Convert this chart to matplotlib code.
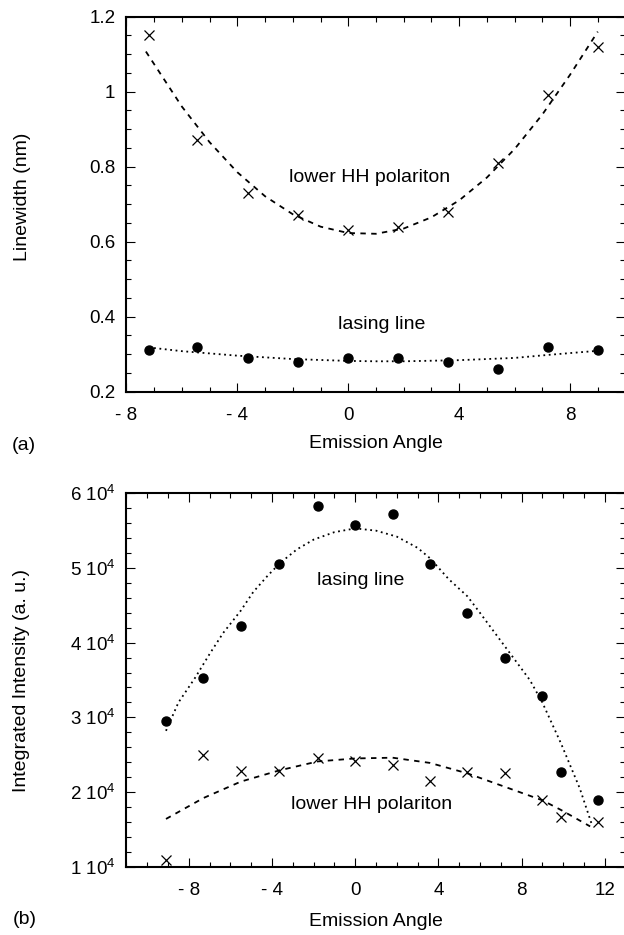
import matplotlib
matplotlib.use('Agg')
import matplotlib.pyplot as plt
from matplotlib.ticker import MultipleLocator

plt.rcParams['font.family'] = ['Liberation Sans', 'DejaVu Sans']
plt.rcParams['mathtext.fontset'] = 'custom'
plt.rcParams['mathtext.rm'] = 'Liberation Sans'
plt.rcParams['mathtext.it'] = 'Liberation Sans:italic'

# (a) linewidth vs emission angle
angle_a = [-7.2, -5.45, -3.6, -1.8, 0, 1.8, 3.6, 5.4, 7.2, 9.0]
hh_width = [1.15, 0.87, 0.73, 0.67, 0.63, 0.64, 0.68, 0.81, 0.99, 1.12]
lasing_width = [0.31, 0.32, 0.29, 0.28, 0.29, 0.29, 0.28, 0.26, 0.32, 0.31]

# fit curves
hh_fit_x = [-7.3, -6, -5, -4, -3, -2, -1, 0, 1, 2, 3, 4, 5, 6, 7, 8, 9.0]
hh_fit_y = [1.107, 0.96, 0.865, 0.785, 0.721, 0.673, 0.64, 0.623, 0.621, 0.635,
			0.665, 0.71, 0.771, 0.847, 0.939, 1.045, 1.16]
las_fit_x = [-7.2, -6, -4, -2, 0, 1, 2, 4, 6, 7.2, 9.0]
las_fit_y = [0.318, 0.308, 0.296, 0.287, 0.282, 0.281, 0.281, 0.284, 0.29, 0.298, 0.309]

# (b) integrated intensity vs emission angle
angle_b = [-9.1, -7.3, -5.5, -3.65, -1.8, 0, 1.8, 3.6, 5.4, 7.2, 9.0, 9.9, 11.7]
lasing_int = [2.95, 3.53, 4.23, 5.05, 5.83, 5.57, 5.72, 5.05, 4.40, 3.80, 3.29, 2.27, 1.89]
hh_int = [1.09, 2.50, 2.28, 2.28, 2.45, 2.41, 2.36, 2.15, 2.27, 2.26, 1.89, 1.66, 1.60]

las_int_fit_x = [-9.1, -8.5, -7.7, -7, -6.35, -5.5, -4.9, -4.2, -3.6, -2.8, -2.0, -1, 0,
				 1, 2, 3, 3.6, 4.5, 5.4, 6.0, 7.2, 8.4, 9.0, 9.9, 10.8, 11.4]
las_int_fit_y = [2.82, 3.2, 3.53, 3.85, 4.13, 4.43, 4.68, 4.9, 5.07, 5.25, 5.38, 5.48, 5.53,
				 5.5, 5.42, 5.27, 5.13, 4.85, 4.62, 4.40, 3.95, 3.5, 3.2, 2.65, 2.05, 1.55]
hh_int_fit_x = [-9.1, -7.3, -5.5, -3.65, -1.8, 0, 1.8, 3.6, 5.4, 7.2, 9.0, 9.9, 11.3]
hh_int_fit_y = [1.64, 1.92, 2.14, 2.29, 2.41, 2.45, 2.46, 2.39, 2.25, 2.07, 1.89, 1.76, 1.54]

xt_a = [-8, -4, 0, 4, 8]
xt_a_lab = ['- 8', '- 4', '0', '4', '8']
yt_a = [0.2, 0.4, 0.6, 0.8, 1.0, 1.2]
yt_a_lab = ['0.2', '0.4', '0.6', '0.8', '1', '1.2']
xt_b = [-8, -4, 0, 4, 8, 12]
xt_b_lab = ['- 8', '- 4', '0', '4', '8', '12']
yt_b = [1, 2, 3, 4, 5, 6]
yt_b_lab = [str(v) + ' 10$^{4}$' for v in yt_b]


def style(ax):
	for s in ax.spines.values():
		s.set_linewidth(1.5)
	ax.tick_params(which='both', direction='in', top=True, right=True, width=0.8, labelsize=13.5)
	ax.tick_params(which='major', length=6.5)
	ax.tick_params(which='minor', length=3.5)
	ax.tick_params(axis='x', pad=11)
	ax.tick_params(axis='y', pad=8)


fig = plt.figure(figsize=(6.24, 9.35), dpi=100)
ax1 = fig.add_axes([0.2027, 0.5811, 0.7997, 0.4011])
ax2 = fig.add_axes([0.2027, 0.0730, 0.7997, 0.3994])

# panel a
ax1.plot(hh_fit_x, hh_fit_y, color='black', lw=1.3, ls=(0, (3, 3)))
ax1.plot(las_fit_x, las_fit_y, color='black', lw=1.3, ls=(0, (1, 2)))
ax1.plot(angle_a, hh_width, 'x', color='black', ms=7, mew=0.9)
ax1.plot(angle_a, lasing_width, 'o', color='black', ms=6.5)
ax1.set_xlim(-8, 10)
ax1.set_ylim(0.2, 1.2)
ax1.set_xticks(xt_a, xt_a_lab)
ax1.set_yticks(yt_a, yt_a_lab)
ax1.xaxis.set_minor_locator(MultipleLocator(1))
ax1.yaxis.set_minor_locator(MultipleLocator(0.05))
ax1.text(0.76, 0.77, 'lower HH polariton', ha='center', va='center', fontsize=14)
ax1.text(1.19, 0.378, 'lasing line', ha='center', va='center', fontsize=14)
style(ax1)

# panel b
ax2.plot(las_int_fit_x, las_int_fit_y, color='black', lw=1.3, ls=(0, (1, 2)))
ax2.plot(hh_int_fit_x, hh_int_fit_y, color='black', lw=1.3, ls=(0, (3, 3)))
ax2.plot(angle_b, lasing_int, 'o', color='black', ms=6.5)
ax2.plot(angle_b, hh_int, 'x', color='black', ms=7, mew=0.9)
ax2.set_xlim(-11, 13)
ax2.set_ylim(1, 6)
ax2.set_xticks(xt_b, xt_b_lab)
ax2.set_yticks(yt_b, yt_b_lab)
ax2.xaxis.set_minor_locator(MultipleLocator(1))
ax2.yaxis.set_minor_locator(MultipleLocator(0.2))
ax2.text(0.24, 4.83, 'lasing line', ha='center', va='center', fontsize=14)
ax2.text(0.8, 1.83, 'lower HH polariton', ha='center', va='center', fontsize=14)
style(ax2)

# labels placed in pixel terms of the figure
W, H = 624.0, 935.0
fig.text(23 / W, 1 - 197 / H, 'Linewidth (nm)', rotation=90, ha='center', va='center', fontsize=14)
fig.text(22 / W, 1 - 680 / H, 'Integrated Intensity (a. u.)', rotation=90, ha='center', va='center', fontsize=14)
fig.text(376 / W, 1 - 444 / H, 'Emission Angle', ha='center', va='center', fontsize=14)
fig.text(376 / W, 1 - 921 / H, 'Emission Angle', ha='center', va='center', fontsize=14)
fig.text(24 / W, 1 - 445 / H, '(a)', ha='center', va='center', fontsize=14)
fig.text(25 / W, 1 - 920 / H, '(b)', ha='center', va='center', fontsize=14)

fig.savefig('out.png', dpi=100)
